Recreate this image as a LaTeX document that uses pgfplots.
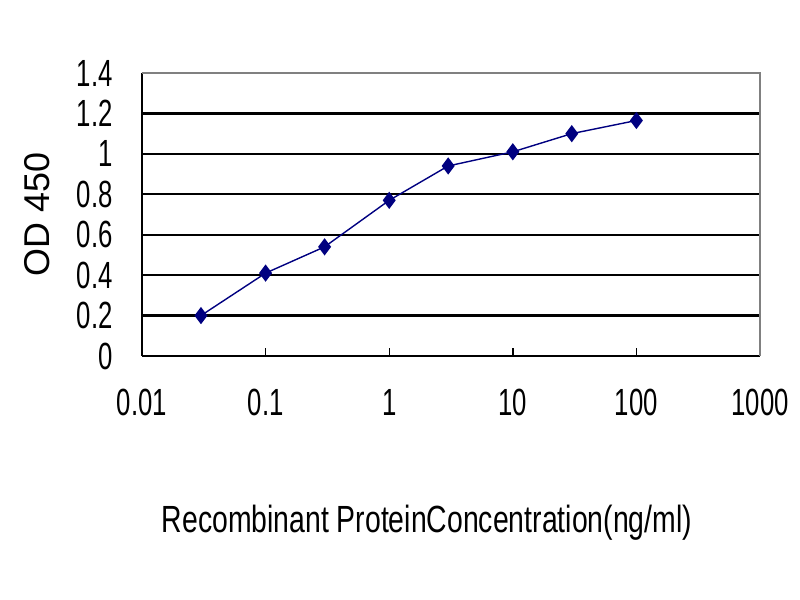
\documentclass[border=0pt]{standalone}
\usepackage{fontspec}
\setmainfont{Liberation Sans}[FakeStretch=0.68]
\newfontfamily\xlabfont{Liberation Sans}[FakeStretch=0.75]
\newfontfamily\ylabfont{Liberation Sans}
\usepackage{pgfplots}
\pgfplotsset{compat=1.18}
\definecolor{navy}{RGB}{0,0,128}
\begin{document}
\begin{tikzpicture}[x=1bp,y=1bp]
\useasboundingbox (0,0) rectangle (800,600);
\begin{axis}[
  at={(142bp,244bp)}, anchor=south west,
  scale only axis, width=618bp, height=283bp,
  xmode=log, xmin=0.01, xmax=1000, ymin=0, ymax=1.4,
  xtick={0.01,0.1,1,10,100,1000},
  xticklabels={0.01,0.1,1,10,100,1000},
  ytick={0,0.2,0.4,0.6,0.8,1,1.2,1.4},
  yticklabels={0,0.2,0.4,0.6,0.8,1,1.2,1.4},
  xminorticks=false, yminorticks=false,
  axis x line*=bottom, axis y line*=left,
  axis line style={black, line width=2bp, -},
  ymajorgrids, grid style={black, line width=2.4bp},
  xtick style={black, line width=1.4bp}, ytick style={draw=none},
  major tick length=8bp,
  tick align=inside,
  tick label style={font=\fontsize{38}{40}\selectfont},
  xticklabel style={yshift=-30bp},
  yticklabel style={xshift=-26bp},
  xlabel={Recombinant ProteinConcentration(ng/ml)},
  xlabel style={at={(axis description cs:0.461,-0.59)}, anchor=center, font=\xlabfont\fontsize{38}{40}\selectfont},
  ylabel={OD 450},
  ylabel style={at={(axis description cs:-0.17,0.5)}, anchor=center, font=\ylabfont\fontsize{36}{40}\selectfont},
  clip=false,
]
\draw[gray, line width=1.4bp] (rel axis cs:0,1) -- (rel axis cs:1,1) -- (rel axis cs:1,0);
\addplot[navy, line width=1.4bp, mark=diamond*, mark size=7.5bp, mark options={fill=navy, draw=navy}]
coordinates {
(0.03,0.20) (0.1,0.41) (0.3,0.54) (1,0.77) (3,0.94) (10,1.01) (30,1.10) (100,1.165)
};
\end{axis}
\end{tikzpicture}
\end{document}
